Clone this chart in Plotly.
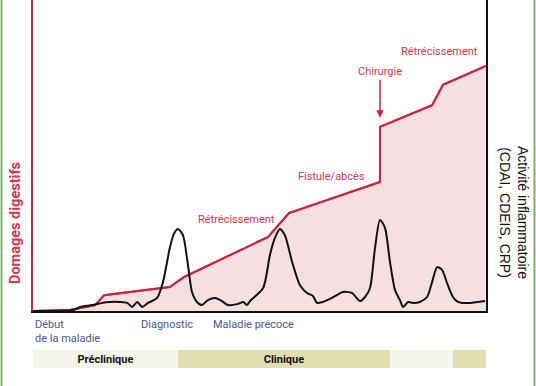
import plotly.graph_objects as go

# ---- data (time 0..100, levels 0..100) ----
damage_t = [0, 8.2, 13.7, 15.7, 30.2, 33.3, 51.9, 56.5, 76.6, 76.6, 88.1, 90.5, 100]
damage_v = [0, 0.3, 1.9, 5.1, 7.7, 10.9, 23.8, 31.5, 41.5, 59.2, 66.2, 72.7, 78.8]

activity_t = [0, 8.8, 10.4, 13.2, 15.2, 17.0, 19.2, 20.8, 21.9, 23.0, 24.1, 25.4, 27.4, 28.7,
              30.2, 31.1, 32.0, 33.1, 34.2, 35.1, 36.2, 37.3, 38.6, 40.2, 41.7, 43.0, 45.3,
              46.4, 47.2, 47.9, 50.8, 52.3, 53.4, 54.5, 55.6, 57.2, 58.9, 60.5, 61.8, 62.7,
              64.0, 66.0, 68.4, 70.4, 72.2, 73.3, 74.4, 75.5, 76.6, 77.7, 78.8, 79.9, 81.0,
              81.7, 82.8, 83.9, 85.4, 87.0, 88.1, 89.2, 90.3, 91.4, 92.7, 93.8, 94.7, 96.5, 99.8]
activity_v = [0, 0.3, 1.3, 1.9, 2.6, 2.9, 2.9, 2.6, 1.3, 2.9, 1.3, 2.6, 4.2, 9.3,
              20.3, 24.8, 26.4, 24.4, 14.8, 6.1, 2.9, 1.9, 3.5, 4.2, 3.2, 1.9, 2.3,
              2.9, 1.9, 3.2, 7.4, 18.0, 23.5, 26.4, 24.4, 15.8, 8.4, 5.8, 4.8, 2.6,
              2.9, 4.2, 6.1, 5.8, 3.2, 4.5, 7.4, 20.3, 29.3, 26.7, 15.8, 6.8, 3.5,
              1.3, 2.9, 2.6, 2.9, 4.5, 9.3, 14.1, 13.2, 9.0, 4.5, 2.9, 2.6, 2.6, 3.2]

event_labels = ["Rétrécissement", "Fistule/abcès", "Chirurgie", "Rétrécissement"]
event_t = [45.0, 66.0, 76.6, 89.8]
event_v = [29.3, 43.4, 76.8, 83.6]
surgery_tip_v = 62.1

milestone_labels = ["Début<br>de la maladie", "Diagnostic", "Maladie précoce"]
milestone_t = [0, 29.6, 48.6]

phase_labels = ["Préclinique", "Clinique", "", ""]
phase_start = [0, 32.0, 78.8, 92.7]
phase_end = [32.0, 78.8, 92.7, 100]
phase_colors = ["#f6f5ea", "#e1deb2", "#f6f5ea", "#e1deb2"]

RED = "#cc2438"
RED_TXT = "#d3374a"
PINK = "#f6dfe3"
BLUE_TXT = "#50548f"
GREEN = "#7db35e"

fig = go.Figure()

fig.add_trace(go.Scatter(x=damage_t, y=damage_v, mode="lines", fill="tozeroy",
                         fillcolor=PINK, line=dict(color=RED, width=2),
                         xaxis="x", yaxis="y", hoverinfo="skip"))
fig.add_trace(go.Scatter(x=activity_t, y=activity_v, mode="lines",
                         line=dict(color="#111111", width=2, shape="spline", smoothing=0.7),
                         xaxis="x", yaxis="y3", hoverinfo="skip"))
fig.add_trace(go.Scatter(x=damage_t, y=damage_v, mode="lines",
                         line=dict(color=RED, width=2),
                         xaxis="x", yaxis="y", hoverinfo="skip"))

fig.add_trace(go.Bar(
    y=["phase"] * 4,
    x=[e - s for s, e in zip(phase_start, phase_end)],
    base=phase_start,
    orientation="h",
    marker=dict(color=phase_colors, line=dict(width=0)),
    text=phase_labels,
    textposition="inside",
    insidetextanchor="middle",
    textangle=0,
    textfont=dict(family="Roboto", size=11, color="#111111", weight="bold"),
    width=1,
    xaxis="x", yaxis="y2", hoverinfo="skip",
))

main_bottom = 57 / 368

fig.update_layout(
    width=536, height=386,
    margin=dict(l=33, r=50, t=0, b=18),
    paper_bgcolor="white", plot_bgcolor="white",
    showlegend=False,
    barmode="overlay",
    uniformtext=dict(minsize=11, mode="show"),
    xaxis=dict(range=[0, 100], anchor="y", showgrid=False, zeroline=False,
               showticklabels=False, ticks="", showline=True,
               linecolor="#111111", linewidth=2),
    yaxis=dict(domain=[main_bottom, 1], range=[0, 100], showgrid=False, zeroline=False,
               showticklabels=False, ticks="", showline=True,
               linecolor=RED, linewidth=2, anchor="x"),
    yaxis3=dict(domain=[main_bottom, 1], range=[0, 100], overlaying="y", side="right",
                showgrid=False, zeroline=False, showticklabels=False, ticks="",
                showline=True, linecolor="#111111", linewidth=2, anchor="x"),
    yaxis2=dict(domain=[0, 18 / 368], range=[-0.5, 0.5], showgrid=False, zeroline=False,
                showticklabels=False, ticks="", showline=False, anchor="x", fixedrange=True),
)

annotations = []
for lab, t, v in zip(event_labels, event_t, event_v):
    if lab == "Chirurgie":
        continue
    annotations.append(dict(x=t, y=v, xref="x", yref="y", text=lab, showarrow=False,
                            font=dict(family="Roboto", size=11, color=RED_TXT)))
# surgery arrow
i = event_labels.index("Chirurgie")
annotations.append(dict(x=event_t[i], y=surgery_tip_v, xref="x", yref="y",
                        text=event_labels[i], showarrow=True, ax=0, ay=-46,
                        arrowhead=2, arrowsize=1, arrowwidth=1.5, arrowcolor=RED,
                        font=dict(family="Roboto", size=11, color=RED_TXT)))

# milestones below axis
annotations.append(dict(x=milestone_t[0], y=(368 - 316) / 368, xref="x", yref="paper",
                        text=milestone_labels[0], showarrow=False, xanchor="left",
                        yanchor="top", align="left",
                        font=dict(family="Roboto", size=11, color=BLUE_TXT)))
for lab, t in zip(milestone_labels[1:], milestone_t[1:]):
    annotations.append(dict(x=t, y=(368 - 316) / 368, xref="x", yref="paper", text=lab,
                            showarrow=False, xanchor="center", yanchor="top",
                            font=dict(family="Roboto", size=11, color=BLUE_TXT)))

# axis titles
annotations.append(dict(x=(15 - 33) / 453, y=(368 - 223) / 368, xref="paper", yref="paper",
                        xanchor="center", yanchor="middle",
                        text="<b>Domages digestifs</b>", textangle=-90, showarrow=False,
                        font=dict(family="Roboto", size=14.5, color=RED_TXT)))
annotations.append(dict(x=(514 - 33) / 453, y=(368 - 212) / 368, xref="paper", yref="paper",
                        xanchor="center", yanchor="middle",
                        text="Activité inflammatoire<br>(CDAI, CDEIS, CRP)", textangle=90,
                        showarrow=False,
                        font=dict(family="Liberation Sans", size=14, color="#111111")))

# x-axis arrowhead
annotations.append(dict(x=100.6, y=0, xref="x", yref="y", text="", showarrow=True,
                        ax=-8, ay=0, arrowhead=2, arrowsize=1, arrowwidth=2,
                        arrowcolor="#111111"))

fig.update_layout(annotations=annotations)

# green page border lines
fig.add_shape(type="line", xref="paper", yref="paper",
              x0=(1.5 - 33) / 453, x1=(1.5 - 33) / 453, y0=-18 / 368, y1=1,
              line=dict(color=GREEN, width=2))
fig.add_shape(type="line", xref="paper", yref="paper",
              x0=(534.5 - 33) / 453, x1=(534.5 - 33) / 453, y0=-18 / 368, y1=1,
              line=dict(color=GREEN, width=2))

fig.write_html("out.html", config={"displayModeBar": False},
               post_script="document.body.style.margin='0';document.body.style.overflow='hidden';")
